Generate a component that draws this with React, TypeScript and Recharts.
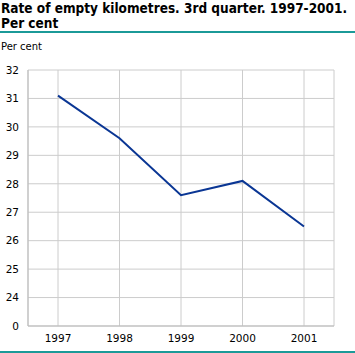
import React from 'react';
import { LineChart, Line, XAxis, YAxis, CartesianGrid } from 'recharts';

const years = ['1997', '1998', '1999', '2000', '2001'];
const emptyKmRate = [31.1, 29.6, 27.6, 28.1, 26.5];
// axis is broken: lowest tick is drawn at 23 but labelled 0
const yTicks = [23, 24, 25, 26, 27, 28, 29, 30, 31, 32];
const yTickLabels = ['0', '24', '25', '26', '27', '28', '29', '30', '31', '32'];

const data = years.map((year, i) => ({ year, rate: emptyKmRate[i] }));

const font = '"DejaVu Sans", Verdana, sans-serif';

const titleStyle: React.CSSProperties = {
  position: 'absolute',
  left: 1,
  fontSize: 13.5,
  fontWeight: 'bold',
  lineHeight: '15px',
  fontFamily: '"DejaVu Sans Condensed", "DejaVu Sans", sans-serif',
  color: '#000',
  whiteSpace: 'nowrap',
};

export default function App() {
  return (
    <div
      style={{
        position: 'absolute',
        left: 0,
        top: 0,
        width: 355,
        height: 353,
        background: '#fff',
        fontFamily: font,
      }}
    >
      <div style={{ position: 'absolute', left: 0, top: 0 }}>
        <LineChart width={355} height={353} data={data} margin={{ top: 70, right: 21, bottom: 0, left: 0 }}>
          <CartesianGrid stroke="#cccccc" strokeWidth={1} />
          <XAxis
            dataKey="year"
            height={27}
            padding={{ left: 30, right: 30 }}
            tickLine={false}
            axisLine={{ stroke: '#bbbbbb' }}
            tick={{ fontSize: 10.5, fill: '#000', fontFamily: font }}
            tickMargin={3}
          />
          <YAxis
            type="number"
            domain={[23, 32]}
            ticks={yTicks}
            interval={0}
            width={28}
            tickLine={false}
            axisLine={{ stroke: '#bbbbbb' }}
            tickFormatter={(v: number) => yTickLabels[yTicks.indexOf(v)]}
            tick={{ fontSize: 10.5, fill: '#000', fontFamily: font }}
            tickMargin={3}
          />
          <Line
            type="linear"
            dataKey="rate"
            stroke="#0a3694"
            strokeWidth={2}
            dot={false}
            isAnimationActive={false}
          />
        </LineChart>
      </div>

      <div style={{ ...titleStyle, top: 1 }}>Rate of empty kilometres. 3rd quarter. 1997-2001.</div>
      <div style={{ ...titleStyle, top: 16 }}>Per cent</div>
      <div style={{ position: 'absolute', left: 0, top: 31, width: 355, height: 2, background: '#1b9a98' }} />
      <div style={{ position: 'absolute', left: 1, top: 41, fontSize: 10, color: '#000' }}>Per cent</div>
      <div style={{ position: 'absolute', left: 0, top: 351, width: 355, height: 2, background: '#1b9a98' }} />
    </div>
  );
}
